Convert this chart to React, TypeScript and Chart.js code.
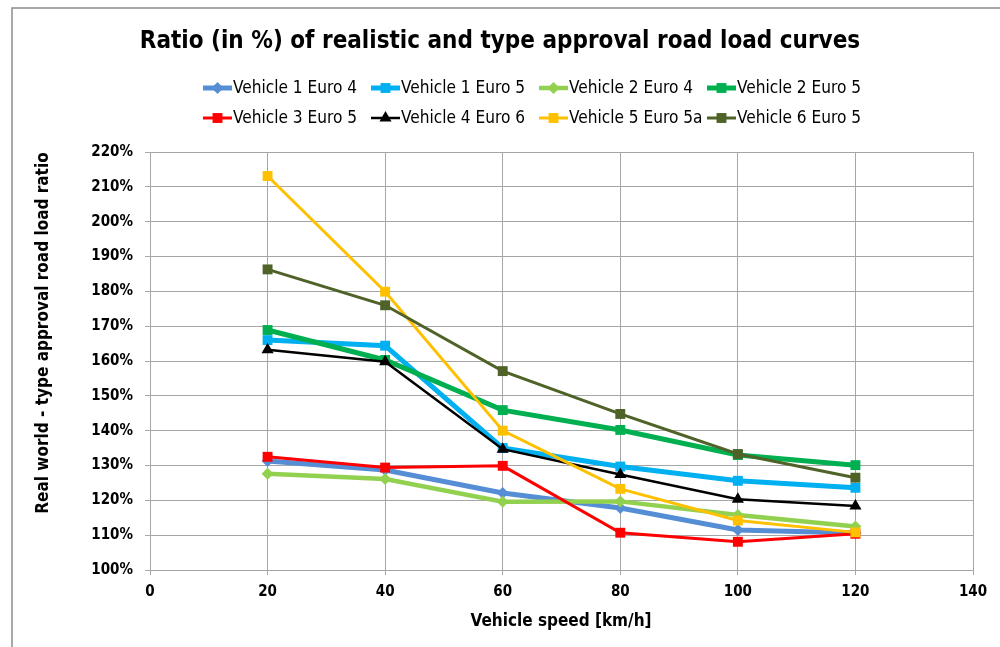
import React, { useEffect, useRef } from "react";
import { Chart, registerables } from "chart.js";

Chart.register(...registerables);

const speeds = [20, 40, 60, 80, 100, 120];

const seriesNames = [
  "Vehicle 1 Euro 4",
  "Vehicle 1 Euro 5",
  "Vehicle 2 Euro 4",
  "Vehicle 2 Euro 5",
  "Vehicle 3 Euro 5",
  "Vehicle 4 Euro 6",
  "Vehicle 5 Euro 5a",
  "Vehicle 6 Euro 5",
];

const v1e4 = [131.3, 128.7, 122.1, 117.8, 111.5, 110.6];
const v1e5 = [166.0, 164.4, 135.0, 129.7, 125.6, 123.6];
const v2e4 = [127.6, 126.1, 119.6, 119.7, 115.8, 112.5];
const v2e5 = [168.9, 160.3, 145.9, 140.2, 133.0, 130.1];
const v3e5 = [132.5, 129.4, 129.9, 110.7, 108.1, 110.4];
const v4e6 = [163.2, 159.8, 134.7, 127.4, 120.3, 118.4];
const v5e5a = [213.1, 179.9, 140.0, 123.3, 114.2, 110.8];
const v6e5 = [186.3, 176.0, 157.1, 144.8, 133.3, 126.5];

const seriesValues = [v1e4, v1e5, v2e4, v2e5, v3e5, v4e6, v5e5a, v6e5];
const seriesColors = ["#558ED5", "#00B0F0", "#92D050", "#00B050", "#FF0000", "#000000", "#FFC000", "#4F6228"];
const seriesWidths = [5, 5, 4.5, 5, 3, 2.5, 3, 3];
const seriesMarkers = ["rectRot", "rect", "rectRot", "rect", "rect", "triangle", "rect", "rect"];
const seriesRadius = [6, 7, 6, 7, 7, 7, 7, 7];

const titleText = "Ratio (in %) of realistic and type approval road load curves";
const xTitle = "Vehicle speed [km/h]";
const yTitle = "Real world - type approval road load ratio";

const FONT = "'Liberation Sans Narrow', 'DejaVu Sans Condensed', 'Noto Sans', sans-serif";
const GRID = "#A6A6A6";

function drawMarker(ctx: CanvasRenderingContext2D, style: string, x: number, y: number, r: number, color: string) {
  ctx.save();
  ctx.fillStyle = color;
  ctx.beginPath();
  if (style === "rect") {
    const s = Math.SQRT1_2 * r;
    ctx.rect(x - s, y - s, 2 * s, 2 * s);
  } else if (style === "rectRot") {
    ctx.moveTo(x - r, y);
    ctx.lineTo(x, y - r);
    ctx.lineTo(x + r, y);
    ctx.lineTo(x, y + r);
    ctx.closePath();
  } else {
    ctx.moveTo(x, y - r);
    ctx.lineTo(x + r * 0.866, y + r * 0.5);
    ctx.lineTo(x - r * 0.866, y + r * 0.5);
    ctx.closePath();
  }
  ctx.fill();
  ctx.restore();
}

const decorPlugin = {
  id: "decor",
  beforeDraw(chart: any) {
    const ctx = chart.ctx as CanvasRenderingContext2D;
    ctx.save();
    ctx.fillStyle = "#FFFFFF";
    ctx.fillRect(0, 0, chart.width, chart.height);
    ctx.strokeStyle = "#8C8C8C";
    ctx.lineWidth = 1.5;
    ctx.strokeRect(12, 8, chart.width + 20, chart.height + 20);
    ctx.restore();
  },
  afterDraw(chart: any) {
    const ctx = chart.ctx as CanvasRenderingContext2D;
    ctx.save();
    // Title
    ctx.fillStyle = "#000000";
    ctx.font = `bold 24px ${FONT}`;
    ctx.textAlign = "center";
    ctx.textBaseline = "middle";
    ctx.fillText(titleText, 500, 42);

    // Legend
    ctx.font = `17px ${FONT}`;
    ctx.textAlign = "left";
    const refW = ctx.measureText(seriesNames[0]).width;
    const sx = 124 / refW;
    const startX = 203;
    const pitch = 168;
    const rowsY = [88, 118];
    seriesNames.forEach((name, i) => {
      const row = Math.floor(i / 4);
      const col = i % 4;
      const x = startX + col * pitch;
      const y = rowsY[row];
      ctx.strokeStyle = seriesColors[i];
      ctx.lineWidth = seriesWidths[i];
      ctx.beginPath();
      ctx.moveTo(x, y);
      ctx.lineTo(x + 29, y);
      ctx.stroke();
      drawMarker(ctx, seriesMarkers[i], x + 14.5, y, seriesRadius[i], seriesColors[i]);
      ctx.fillStyle = "#000000";
      ctx.save();
      ctx.translate(x + 30, y + 1);
      ctx.scale(sx, 1);
      ctx.fillText(name, 0, 0);
      ctx.restore();
    });

    // Axis titles
    ctx.font = `bold 17px ${FONT}`;
    ctx.textAlign = "center";
    ctx.fillText(xTitle, 561, 622);
    ctx.translate(44, 333);
    ctx.rotate(-Math.PI / 2);
    ctx.fillText(yTitle, 0, 0);
    ctx.restore();
  },
};

export default function App() {
  const ref = useRef<HTMLCanvasElement | null>(null);
  useEffect(() => {
    if (!ref.current) return;
    const datasets = seriesNames.map((name, i) => ({
      label: name,
      data: speeds.map((s, j) => ({ x: s, y: seriesValues[i][j] })),
      borderColor: seriesColors[i],
      backgroundColor: seriesColors[i],
      borderWidth: seriesWidths[i],
      pointStyle: seriesMarkers[i],
      pointRadius: seriesRadius[i],
      pointBorderWidth: 0,
      pointBackgroundColor: seriesColors[i],
      tension: 0,
      order: seriesNames.length - i,
    }));
    const chart = new Chart(ref.current, {
      type: "line",
      data: { datasets },
      options: {
        animation: false,
        responsive: true,
        maintainAspectRatio: false,
        layout: { padding: { top: 152, right: 27, left: 0, bottom: 0 } },
        plugins: { legend: { display: false }, title: { display: false }, tooltip: { enabled: false } },
        scales: {
          x: {
            type: "linear",
            min: 0,
            max: 140,
            ticks: { stepSize: 20, color: "#000", font: { family: FONT, size: 15, weight: "bold" }, padding: 8 },
            grid: { color: GRID, lineWidth: 1, tickLength: 5 },
            border: { color: GRID, width: 1 },
            afterFit: (s: any) => { s.height = 77; },
          },
          y: {
            type: "linear",
            min: 100,
            max: 220,
            ticks: {
              stepSize: 10,
              color: "#000",
              font: { family: FONT, size: 15, weight: "bold" },
              padding: 12,
              callback: (v: any) => `${v}%`,
            },
            grid: { color: GRID, lineWidth: 1, tickLength: 5 },
            border: { color: GRID, width: 1 },
            afterFit: (s: any) => { s.width = 150; },
          },
        },
      },
      plugins: [decorPlugin],
    } as any);
    return () => chart.destroy();
  }, []);
  return (
    <div style={{ position: "fixed", left: 0, top: 0, width: 1000, height: 647, background: "#fff" }}>
      <canvas ref={ref} />
    </div>
  );
}
